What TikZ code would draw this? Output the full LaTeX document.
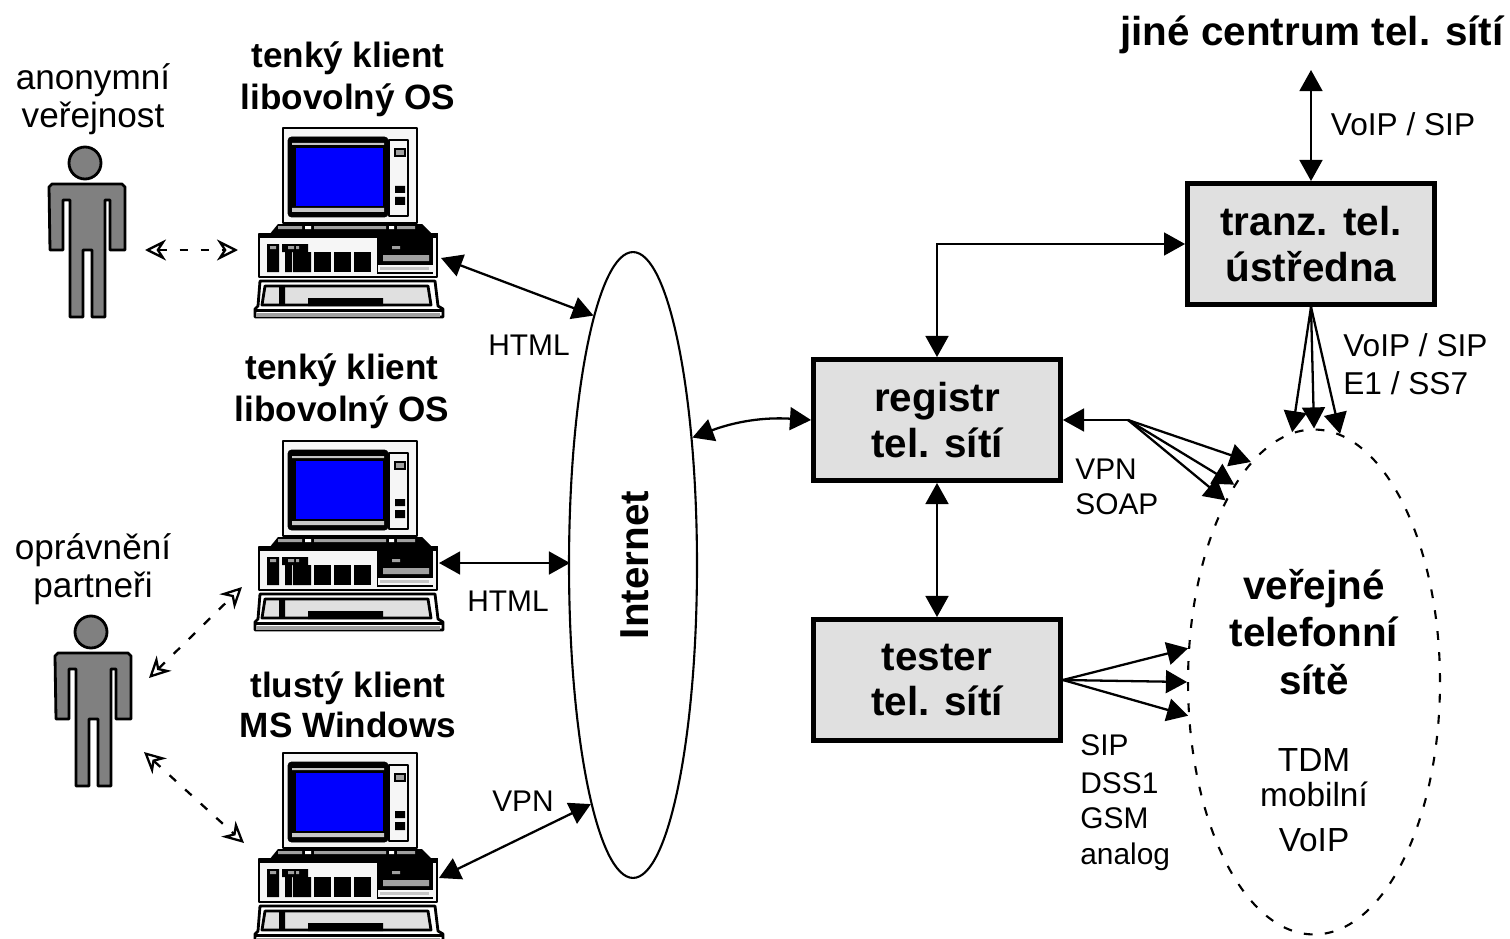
\documentclass[tikz,border=0pt]{standalone}
\usepackage{fontspec}
\setmainfont{Liberation Sans}
\usetikzlibrary{arrows.meta,shapes.geometric,positioning,calc}
\definecolor{boxgray}{HTML}{E0E0E0}
\definecolor{mangray}{HTML}{808080}
\definecolor{scrblue}{HTML}{0000FF}
\definecolor{pcwhite}{HTML}{F6F6F6}
\definecolor{pcgray}{HTML}{A0A0A0}
\tikzset{
  bigtxt/.style={font=\fontsize{23}{27}\selectfont\bfseries,align=center,inner sep=0pt},
  headtxt/.style={font=\fontsize{20}{24}\selectfont\bfseries,align=center,inner sep=0pt},
  roletxt/.style={font=\fontsize{20}{24}\selectfont,align=center,inner sep=0pt},
  labtxt/.style={font=\fontsize{17}{20}\selectfont,align=left,inner sep=0pt},
  voiptxt/.style={font=\fontsize{18}{20}\selectfont,align=left,inner sep=0pt},
  centrebox/.style={draw,line width=2.8pt,fill=boxgray,minimum width=4.94cm,minimum height=2.42cm,bigtxt},
  cloud/.style={draw,ellipse,line width=1.2pt,inner sep=0pt},
  link/.style={line width=1.3pt,>={Triangle[length=12pt,width=13pt]}},
  softlink/.style={line width=1.3pt,dash pattern=on 5pt off 7pt,>={Stealth[open,length=12pt,width=12pt]}},
  pcline/.style={line width=1.6pt,line join=round},
  pics/person/.style={code={
    \filldraw[pcline,fill=mangray] (-33,21) -- (37,21) -- (40,24) -- (40,87) -- (25,87) -- (25,37) -- (20,37) -- (20,154) -- (7,154) -- (7,87) -- (-2,87) -- (-2,154) -- (-15,154) -- (-15,37) -- (-22,37) -- (-22,87) -- (-35,87) -- (-36,24) -- cycle;
    \filldraw[pcline,fill=mangray] (0,0) circle (0.32cm);
  }},
  pics/computer/.style={code={
    %monitor
    \filldraw[pcline,fill=pcwhite] (0,0) rectangle (134,95);
    \filldraw[rounded corners=2pt,fill=black] (5,9) rectangle (105,89);
    \fill[pcgray!60] (9,15) rectangle (101,17) (9,80) rectangle (101,84);
    \fill[scrblue] (13,20) rectangle (100,78);
    \draw[pcline,fill=pcwhite] (106,12) rectangle (125,88);
    \filldraw[line width=1pt,fill=pcgray] (112,21) rectangle (122,28);
    \fill[black] (112,58) rectangle (122,65) (112,69) rectangle (122,77);
    %base
    \fill[black] (-14,107) -- (-5,96) -- (139,96) -- (150,107) -- cycle;
    \fill[pcgray] (-5,98) rectangle (19,101) (31,98) rectangle (103,101) (114,98) rectangle (132,101);
    \fill[white] (22,98) rectangle (28,101) (106,98) rectangle (111,101);
    \filldraw[pcline,fill=pcwhite] (-24,106) rectangle (154,149);
    \fill[black] (-24,105) rectangle (155,110);
    \fill[black] (-16,116) rectangle (-4,144) (-1,116) rectangle (25,124) (2,124) rectangle (9,144) (10,124) rectangle (28,144);
    \fill[pcgray] (-13,118) rectangle (-7,121) (5,118) rectangle (11,121) (13,118) rectangle (16,121);
    \foreach \slotx in {31,51,71}
      {\fill[black] (\slotx,124) rectangle ++(17,20);}
    \fill[black] (94,109) rectangle (150,146);
    \fill[pcgray] (100,127) rectangle (146,133) (109,118) rectangle (117,121);
    \fill[pcwhite] (95,137) rectangle (150,144);
    \fill[pcgray!60] (97,139) rectangle (146,142);
    %keyboard
    \filldraw[pcline,fill=white] (-23,153) -- (152,153) -- (155,178) -- (160,181) -- (160,189) -- (-28,189) -- (-28,181) -- (-25,178) -- cycle;
    \filldraw[pcline,fill=boxgray] (-18,158) -- (145,158) -- (148,177) -- (-21,177) -- cycle;
    \fill[black] (25,170) rectangle (100,178) (-4,158) rectangle (2,176);
    \fill[black] (-28,181) rectangle (160,184);
    \fill[pcgray] (-27,185) rectangle (157,189);
  }}
}
\begin{document}
\begin{tikzpicture}[x=0.02cm,y=-0.02cm]
\clip (0,0) rectangle (1510,939);
\fill[white] (0,0) rectangle (1510,939);
%people
\pic at (85,163) {person};
\pic at (91,632) {person};
\node[roletxt] (manAtxt) at (93,99) {anonymní\\[-2.5pt]veřejnost};
\node[roletxt] (manBtxt) at (93,569) {oprávnění\\[-2.5pt]partneři};
%computers
\pic at (283,128) {computer};
\pic at (283,441) {computer};
\pic at (283,753) {computer};
\node[headtxt] (pcAtxt) at (348,79) {tenký klient\\libovolný OS};
\node[headtxt] (pcBtxt) at (342,391) {tenký klient\\libovolný OS};
\node[headtxt] (pcCtxt) at (348,705) {tlustý klient\\[-1pt]MS Windows};
%clouds
\node[cloud,minimum width=2.56cm,minimum height=12.52cm] (inet) at (633,565) {};
\node[bigtxt,rotate=90] (inettxt) at (635,565) {Internet};
\node[cloud,minimum width=5.04cm,minimum height=10.1cm,line width=1.2pt,dash pattern=on 5pt off 7pt] (tele) at (1314,682) {};
\node[bigtxt] (teletxt) at (1314,632) {veřejné\\telefonní\\sítě};
\node[font=\fontsize{19}{23}\selectfont,align=center,inner sep=0pt] (teletypes) at (1314,800) {TDM\\[-3pt]mobilní\\[2.5pt]VoIP};
%boxes
\node[centrebox] (registr) at (937,420) {registr\\[-1pt]tel. sítí};
\node[centrebox] (tester) at (937,680) {tester\\[-1pt]tel. sítí};
\node[centrebox] (tranz) at (1311,244) {tranz. tel.\\[-1pt]ústředna};
\node[bigtxt] (jine) at (1312,35) {jiné centrum tel. sítí};
%free ends
\coordinate (jineport) at (1311,70);
\coordinate (hubR) at (1128,420);
\coordinate (pcAport) at (441,258);
\coordinate (pcBport) at (439,563);
\coordinate (pcCport) at (439,878);
\coordinate (inetB) at (570,563);
\coordinate (manAport) at (145,250);
\coordinate (pcAleft) at (238,250);
\coordinate (manBup) at (149,678);
\coordinate (pcBleft) at (242,587);
\coordinate (manBdown) at (144,752);
\coordinate (pcCleft) at (244,843);
%client links
\draw[link,<->] (pcAport) -- (inet.99.7);
\draw[link,<->] (pcBport) -- (inetB);
\draw[link,<->] (pcCport) -- (inet.260.6);
\draw[softlink,<->] (manAport) -- (pcAleft);
\draw[softlink,<->] (manBup) -- (pcBleft);
\draw[softlink,<->] (manBdown) -- (pcCleft);
%centre links
\draw[link,<->] (inet.65) to[bend left=12] (registr.west);
\draw[link,<->] (tranz.west) -| (registr.north);
\draw[link,<->] (registr.south) -- (tester.north);
\draw[link,<->] (tranz.north) -- (jineport);
%fans
\draw[link,->] (hubR) -- (registr.east);
\foreach \ang in {106.4,112,116.8}
  {\draw[link,->] (hubR) -- (tele.\ang);}
\foreach \ang in {95.6,90,84.5}
  {\draw[link,->] (tranz.south) -- (tele.\ang);}
\foreach \ang in {165,180,195}
  {\draw[link,->] (tester.east) -- (tele.\ang);}
%labels
\node[labtxt] (htmlA) at (529,345) {HTML};
\node[labtxt] (htmlB) at (508,601) {HTML};
\node[labtxt] (vpnC) at (523,801) {VPN};
\node[voiptxt] (voipA) at (1403,124) {VoIP / SIP};
\node[voiptxt,anchor=west] (voipB) at (1343,345) {VoIP / SIP};
\node[voiptxt,anchor=west] (eone) at (1343,383) {E1 / SS7};
\node[labtxt,anchor=west] (vpnR) at (1075,469) {VPN};
\node[labtxt,anchor=west] (soapR) at (1075,504) {SOAP};
\node[labtxt,anchor=west] (sipT) at (1080,745) {SIP};
\node[labtxt,anchor=west] (dssT) at (1080,783) {DSS1};
\node[labtxt,anchor=west] (gsmT) at (1080,818) {GSM};
\node[labtxt,anchor=west] (anaT) at (1080,857) {analog};
\end{tikzpicture}
\end{document}
